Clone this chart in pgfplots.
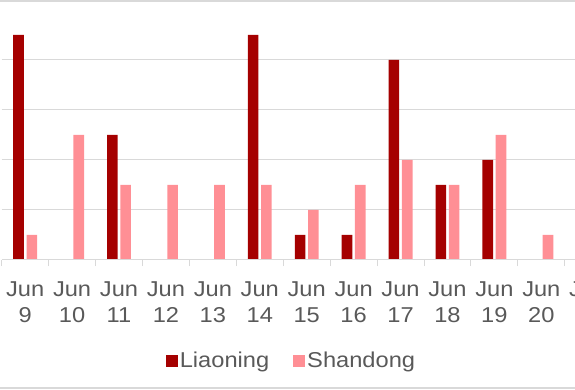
\documentclass[border=0pt]{standalone}
\usepackage{fontspec}
\setmainfont{Liberation Sans}[FakeStretch=1.1]
\usepackage{pgfplots}
\pgfplotsset{compat=1.18}
\definecolor{liao}{HTML}{A50000}
\definecolor{shan}{HTML}{FF8F95}
\definecolor{txt}{HTML}{595959}
\definecolor{grd}{HTML}{D9D9D9}
\begin{document}
\begin{tikzpicture}[x=1pt,y=1pt]
\path[use as bounding box] (-1.7,-130) rectangle (573.3,260);
\clip (-1.7,-130) rectangle (573.3,260);
\begin{axis}[
  at={(0,0)}, anchor=south west,
  scale only axis, width=610pt, height=260pt,
  xmin=-0.5, xmax=12.5, ymin=0, ymax=10.4,
  ybar=2.7pt, bar width=10.6pt,
  xtick={0,...,12},
  xticklabels={{Jun\\9},{Jun\\10},{Jun\\11},{Jun\\12},{Jun\\13},{Jun\\14},{Jun\\15},{Jun\\16},{Jun\\17},{Jun\\18},{Jun\\19},{Jun\\20},{Jun\\21}},
  major x tick style={draw=none},
  minor xtick={-0.5,0.5,...,12.5},
  minor x tick style={grd, line width=1pt},
  minor tick length=6pt, tick align=outside, xtick pos=lower,
  ytick={2,4,6,8}, yticklabels={}, ytick style={draw=none},
  ymajorgrids, major grid style={grd, line width=1pt},
  axis line style={draw=none},
  xticklabel style={align=center, font=\fontsize{21.5}{26}\selectfont, text=txt, yshift=-13.5pt},
  legend style={at={(0.475,-0.388)}, anchor=center, draw=none, fill=none,
    legend columns=2, font=\fontsize{21.5}{24}\selectfont, text=txt,
    /tikz/every even column/.append style={column sep=22pt}},
  legend image code/.code={\fill[#1,draw=none] (0pt,-6pt) rectangle (12pt,6pt);},
]
\addplot[fill=liao, draw=none] coordinates {(0,9) (2,5) (5,9) (6,1) (7,1) (8,8) (9,3) (10,4)};
\addplot[fill=shan, draw=none] coordinates {(0,1) (1,5) (2,3) (3,3) (4,3) (5,3) (6,2) (7,3) (8,4) (9,3) (10,5) (11,1)};
\legend{Liaoning,Shandong}
\draw[grd, line width=1pt] (rel axis cs:0,0) -- (rel axis cs:1,0);
\end{axis}
\draw[grd, line width=1.5pt] (-1.7,259) -- (573.3,259);
\draw[grd, line width=1.5pt] (-1.7,-128) -- (573.3,-128);
\end{tikzpicture}
\end{document}
